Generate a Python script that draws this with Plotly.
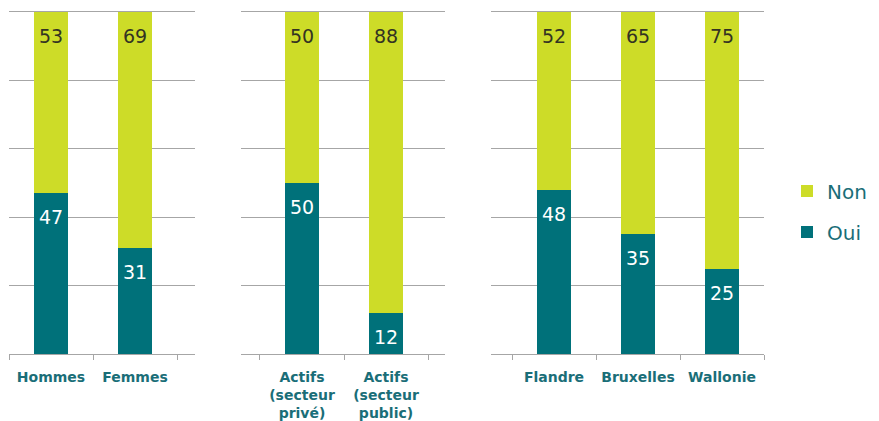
import plotly.graph_objects as go

# Data
panel1_categories = ["Hommes", "Femmes"]
panel1_oui = [47, 31]
panel1_non = [53, 69]

panel2_categories = ["Actifs<br>(secteur<br>privé)", "Actifs<br>(secteur<br>public)"]
panel2_oui = [50, 12]
panel2_non = [50, 88]

panel3_categories = ["Flandre", "Bruxelles", "Wallonie"]
panel3_oui = [48, 35, 25]
panel3_non = [52, 65, 75]

series_names = ["Oui", "Non"]

TEAL = "#00717A"
GREEN = "#CDDC28"
LABEL_TEAL = "#1A6E78"
GRID = "#A6A6A6"

panels = [
    (panel1_categories, panel1_oui, panel1_non),
    (panel2_categories, panel2_oui, panel2_non),
    (panel3_categories, panel3_oui, panel3_non),
]

fig = go.Figure()
annotations = []
for i, (cats, oui, non) in enumerate(panels):
    xa = "x" if i == 0 else f"x{i+1}"
    ya = "y" if i == 0 else f"y{i+1}"
    fig.add_trace(go.Bar(
        x=cats, y=oui, name=series_names[0], marker=dict(color=TEAL, line=dict(width=0)),
        width=0.41, xaxis=xa, yaxis=ya, showlegend=(i == 0), legendgroup="oui",
        legendrank=2, hoverinfo="skip",
    ))
    fig.add_trace(go.Bar(
        x=cats, y=non, name=series_names[1], marker=dict(color=GREEN, line=dict(width=0)),
        width=0.41, xaxis=xa, yaxis=ya, showlegend=(i == 0), legendgroup="non",
        legendrank=1, hoverinfo="skip",
    ))
    for c, o, n in zip(cats, oui, non):
        annotations.append(dict(
            x=c, y=o, xref=xa, yref=ya, text=str(o), showarrow=False,
            yshift=-24, font=dict(family="DejaVu Sans", size=19, color="white"),
        ))
        annotations.append(dict(
            x=c, y=o + n, xref=xa, yref=ya, text=str(n), showarrow=False,
            yshift=-24, font=dict(family="DejaVu Sans", size=19, color="#333322"),
        ))

# page body has an 8px offset; layout coordinates below are in figure frame
W, H = 871, 413
ML, MR, MT, MB = 1, 115, 4, 67
pw = W - ML - MR
ph = H - MT - MB

def dom(a, b):
    return [(a - ML) / pw, (b - ML) / pw]

domains = [dom(1, 187), dom(233, 437), dom(483, 756)]
ranges = [[-0.5, 1.714], [-0.726, 1.702], [-0.75, 2.5]]

layout = dict(
    width=W, height=H,
    margin=dict(l=ML, r=MR, t=MT, b=MB, autoexpand=False),
    paper_bgcolor="white", plot_bgcolor="white",
    barmode="stack",
    annotations=annotations,
    legend=dict(
        x=(779 - ML) / pw, xanchor="left",
        y=1 - (203.5 - MT) / ph, yanchor="middle",
        traceorder="grouped", tracegroupgap=12,
        font=dict(family="DejaVu Sans", size=20, color=LABEL_TEAL),
        bgcolor="rgba(0,0,0,0)",
    ),
    showlegend=True,
)

for i in range(3):
    xk = "xaxis" if i == 0 else f"xaxis{i+1}"
    yk = "yaxis" if i == 0 else f"yaxis{i+1}"
    ya = "y" if i == 0 else f"y{i+1}"
    xa = "x" if i == 0 else f"x{i+1}"
    layout[xk] = dict(
        domain=domains[i], anchor=ya, type="category", range=ranges[i],
        showline=True, mirror=True, linecolor=GRID, linewidth=1,
        ticks="outside", tickson="boundaries", ticklen=5, tickcolor=GRID,
        ticklabelstandoff=10, tickangle=0,
        tickfont=dict(family="DejaVu Sans", size=14, color=LABEL_TEAL, weight="bold"),
        showgrid=False, fixedrange=True,
    )
    layout[yk] = dict(
        domain=[0, 1], anchor=xa, range=[0, 100], dtick=20,
        showgrid=True, gridcolor=GRID, gridwidth=1,
        showticklabels=False, zeroline=False, showline=False, ticks="",
        fixedrange=True,
    )

fig.update_layout(**layout)
fig.write_html("out.html")
